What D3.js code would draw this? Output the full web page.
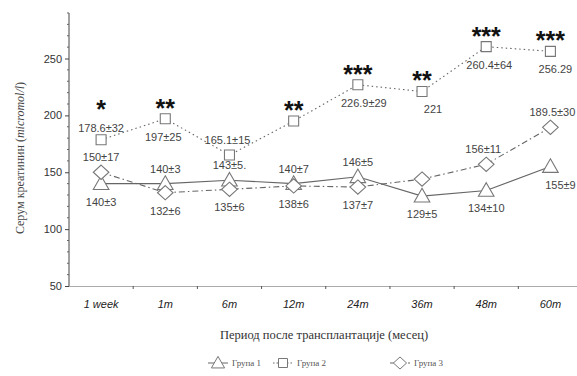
<!DOCTYPE html>
<html><head><meta charset="utf-8">
<script src="https://cdn.jsdelivr.net/npm/d3@7"></script>
<style>body{margin:0;background:#fff}svg{display:block}</style>
</head><body>
<svg id="c" width="577" height="376"></svg>
<script>
const categories = ["1 week","1m","6m","12m","24m","36m","48m","60m"];
const group1 = [140,140,143,140,146,129,134,155];
const group2 = [178.6,197,165.1,195,226.9,221,260.4,256.29];
const group3 = [150,132,135,138,137,144,157,189.5];
const labels1 = ["140±3","140±3","143±5.","140±7","146±5","129±5","134±10","155±9"];
const labels2 = ["178.6±32","197±25","165.1±15","","226.9±29","221","260.4±64","256.29"];
const labels3 = ["150±17","132±6","135±6","138±6","137±7","","156±11","189.5±30"];
const stars = ["*","**","","**","***","**","***","***"];
const yTicks = [50,100,150,200,250];
const seriesNames = ["Група 1","Група 2","Група 3"];

// label placement (pos: -1 above, +1 below; dx shift)
const place1 = [[1,0],[-1,0],[-1,0],[-1,0],[-1,0],[1,0],[1,0],[1,10]];
const place2 = [[-1,0],[1,-2],[-1,-2],[0,0],[1,6],[1,11],[1,3],[1,5]];
const place3 = [[-1,0],[1,0],[1,0],[1,0],[1,0],[0,0],[-1,-3],[-1,2]];

const svg = d3.select("#c");
const x = d3.scaleBand().domain(categories).range([69, 582.5]);
const y = d3.scaleLinear().domain([50, 290]).range([286, 13]);
const cx = c => x(c) + x.bandwidth()/2;

// y axis
const yAxis = d3.axisLeft(y).tickValues(yTicks).tickSize(4).tickPadding(3);
const gy = svg.append("g").attr("transform","translate(69,0)").call(yAxis);
gy.select(".domain").attr("stroke","#444").attr("d","M0,286V13");
gy.selectAll(".tick line").attr("stroke","#444");
gy.selectAll(".tick text").attr("font-family","Arial, 'Liberation Sans', sans-serif").attr("font-size",11).attr("fill","#333");
const minor = d3.range(60, 291, 10).filter(v => !yTicks.includes(v));
gy.selectAll(".minor").data(minor).enter().append("line")
  .attr("x1",-2).attr("x2",0).attr("y1",d=>y(d)).attr("y2",d=>y(d)).attr("stroke","#666");

// x axis
const xAxis = d3.axisBottom(x).tickSize(0).tickPadding(14);
const gx = svg.append("g").attr("transform","translate(0,286)").call(xAxis);
gx.select(".domain").attr("stroke","#555").attr("stroke-dasharray","1,1");
gx.selectAll(".tick text").attr("font-family","Arial, 'Liberation Sans', sans-serif").attr("font-size",11).attr("font-style","italic").attr("fill","#222");
gx.selectAll(".btick").data(categories.slice(1)).enter().append("line")
  .attr("x1",d=>x(d)).attr("x2",d=>x(d)).attr("y1",0).attr("y2",3).attr("stroke","#555");

// axis titles
const yl = svg.append("text").attr("transform","translate(24,158) rotate(-90)")
  .attr("text-anchor","middle").attr("font-size",12).attr("fill","#444")
  .attr("font-family","'Liberation Serif', serif");
yl.append("tspan").text("Серум креатинин (");
yl.append("tspan").attr("font-style","italic").text("micromol/l");
yl.append("tspan").text(")");
svg.append("text").attr("x",324).attr("y",339).attr("text-anchor","middle")
  .attr("font-family","'Liberation Serif', serif").attr("font-size",12.5).attr("fill","#333")
  .text("Период после трансплантације (месец)");

// markers
const sym = {
  tri: (s)=>`M0,${-s*0.6}L${s*0.6},${s*0.45}L${-s*0.6},${s*0.45}Z`,
  sq: (s)=>`M${-s/2},${-s/2}h${s}v${s}h${-s}Z`,
  dia: (s)=>`M0,${-s*0.55}L${s*0.6},0L0,${s*0.55}L${-s*0.6},0Z`
};
const series = [
  {vals:group1, labs:labels1, pl:place1, shape:"tri", size:13, dash:null},
  {vals:group2, labs:labels2, pl:place2, shape:"sq", size:10, dash:"1.5,3"},
  {vals:group3, labs:labels3, pl:place3, shape:"dia", size:13, dash:"6,3,1.5,3"}
];
const line = d3.line().x((d,i)=>cx(categories[i])).y(d=>y(d));
series.forEach(s=>{
  svg.append("path").datum(s.vals).attr("d",line).attr("fill","none")
    .attr("stroke","#666").attr("stroke-width",1.1).attr("stroke-dasharray",s.dash);
});
series.forEach(s=>{
  svg.selectAll(null).data(s.vals).enter().append("path")
    .attr("transform",(d,i)=>`translate(${cx(categories[i])},${y(d)})`)
    .attr("d",sym[s.shape](s.size)).attr("fill","#fff").attr("stroke","#777").attr("stroke-width",1.1);
});
series.forEach((s,k)=>{
  svg.selectAll(null).data(s.vals).enter().append("text")
    .attr("x",(d,i)=>cx(categories[i]) + s.pl[i][1])
    .attr("y",(d,i)=>y(d) + (s.pl[i][0] < 0 ? (k===1 && i===0 ? -8 : -11) : 22))
    .attr("text-anchor","middle").attr("font-family","Arial, 'Liberation Sans', sans-serif")
    .attr("font-size",11).attr("fill","#444")
    .text((d,i)=>s.labs[i]);
});
// significance stars
svg.selectAll(null).data(stars).enter().append("text")
  .attr("x",(d,i)=>cx(categories[i]))
  .attr("y",(d,i)=>y(group2[i]) - (place2[i][0] < 0 ? 37 : 17) + 15)
  .attr("text-anchor","middle").attr("font-family","Arial, 'Liberation Sans', sans-serif")
  .attr("font-size",25).attr("font-weight","bold").attr("fill","#111")
  .text(d=>d);

// legend
const leg = [{x:208, shape:"tri", size:11, dash:null},{x:273, shape:"sq", size:9, dash:"1.5,2"},{x:390, shape:"dia", size:11, dash:"4,2,1,2"}];
leg.forEach((l,i)=>{
  const g = svg.append("g").attr("transform",`translate(${l.x},363)`);
  g.append("line").attr("x1",0).attr("x2",20).attr("stroke","#666").attr("stroke-dasharray",l.dash);
  g.append("path").attr("transform","translate(10,0)").attr("d",sym[l.shape](l.size)).attr("fill","#fff").attr("stroke","#777");
  g.append("text").attr("x",24).attr("y",3).attr("font-family","'Liberation Serif', serif")
    .attr("font-size",9).attr("fill","#555").text(seriesNames[i]);
});
</script>
</body></html>
